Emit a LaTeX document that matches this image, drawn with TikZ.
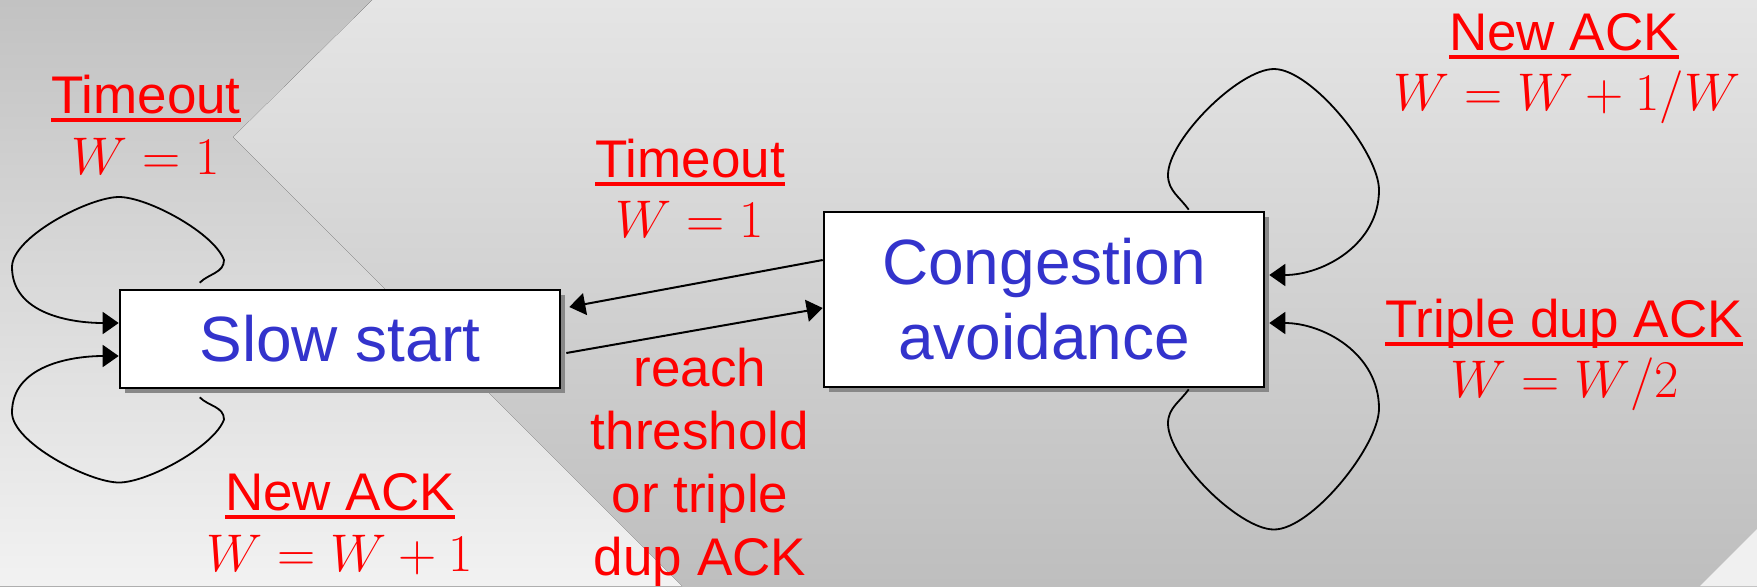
\RequirePackage{fix-cm}
\documentclass[tikz,border=0pt]{standalone}
\usepackage{fontspec}
\setmainfont{Liberation Sans}
\usetikzlibrary{arrows.meta,shadows,calc}
\definecolor{boxblue}{HTML}{3333CC}
\definecolor{lblred}{HTML}{FF0000}
\definecolor{shadowgray}{HTML}{888888}
\definecolor{bgtop}{HTML}{E5E5E5}
\definecolor{bgbot}{HTML}{BEBEBE}
\definecolor{lftop}{HTML}{C2C2C2}
\definecolor{lfbot}{HTML}{F2F2F2}
\definecolor{cornerlight}{HTML}{F0F0F0}
\newcommand{\ulText}[1]{\setbox0\hbox{#1}\rlap{\rule[-4.4pt]{\wd0}{1.8pt}}\box0}
\begin{document}
\begin{tikzpicture}[x=0.5pt,y=0.5pt,
  state/.style={draw=black,line width=1.3pt,fill=white,inner sep=0pt,text=boxblue,
    font=\fontsize{32}{37.5}\selectfont,align=center,
    drop shadow={shadow xshift=2.5pt,shadow yshift=-2.5pt,fill=shadowgray,opacity=1}},
  lab/.style={text=lblred,font=\fontsize{26.5}{31.5}\selectfont,inner sep=0pt,anchor=base},
  conn/.style={line width=1pt,-{Triangle[length=8pt,width=11pt]}},
  loopline/.style={line width=0.9pt,-{Triangle[length=8pt,width=11pt]}},
]
\useasboundingbox (0,0) rectangle (1757,-586);
% background
\fill[top color=bgtop,bottom color=bgbot] (0,0) rectangle (1757,-586);
\fill[top color=lftop,bottom color=lfbot] (0,0) -- (372,0) -- (233,-137) -- (682,-586) -- (0,-586) -- cycle;
\fill[cornerlight] (1700,-586) -- (1757,-529) -- (1757,-586) -- cycle;

% states
\node[state,minimum width=220pt,minimum height=49pt] (ss) at (340,-339) {Slow start};
\node[state,minimum width=220pt,minimum height=87.5pt] (ca) at (1044,-299.5) {Congestion\\avoidance};

% labels
\node[lab] (tlA) at (146,-113) {\ulText{Timeout}};
\node[lab] (tlB) at (146,-174) {$W=1$};
\node[lab] (mtA) at (690,-177) {\ulText{Timeout}};
\node[lab] (mtB) at (690,-237) {$W=1$};
\node[lab,align=center] (rch) at (700,-575) {reach\\threshold\\or triple\\dup ACK};
\node[lab] (blA) at (340,-510) {\ulText{New ACK}};
\node[lab] (blB) at (340,-571) {$W=W+1$};
\node[lab] (trA) at (1564,-50) {\ulText{New ACK}};
\node[lab] (trB) at (1567,-110) {$W=W+1/W$};
\node[lab] (rA) at (1564,-337) {\ulText{Triple dup ACK}};
\node[lab] (rB) at (1565,-397) {$W=W/2$};

% connectors between states
\draw[conn] ($(ca.west)+(0,39.5)$) -- ($(ss.east)+(8,32)$);
\draw[conn] ($(ss.east)+(5,-14)$) -- ($(ca.west)+(0,-8.5)$);

% loop end points
\coordinate (ssin1) at ($(ss.west)+(0,16)$);
\coordinate (ssin2) at ($(ss.west)+(0,-17)$);
\coordinate (ssout1) at ($(ss.north west)+(81,6)$);
\coordinate (ssout2) at ($(ss.south west)+(81,-8)$);
\coordinate (caout1) at ($(ca.north west)+(366,1)$);
\coordinate (caout2) at ($(ca.south west)+(366,-1)$);
\coordinate (cain1) at ($(ca.east)+(4,24.5)$);
\coordinate (cain2) at ($(ca.east)+(4,-23.5)$);

% self loops on Slow start
\draw[loopline] (ssout1) to[out=45,in=-90] (224,-260)
  to[out=110,in=0,looseness=0.6] (119,-197)
  to[out=180,in=90,looseness=0.6] (12,-267)
  to[out=-90,in=180] (ssin1);
\draw[loopline] (ssout2) to[out=-45,in=90] (224,-419.5)
  to[out=-110,in=0,looseness=0.6] (119,-482.5)
  to[out=180,in=-90,looseness=0.6] (12,-412.5)
  to[out=90,in=180] (ssin2);
% self loops on Congestion avoidance
\draw[loopline] (caout1) to[out=125,in=-90] (1168,-175)
  to[out=90,in=180,looseness=0.6] (1274,-69)
  to[out=0,in=90,looseness=0.6] (1379,-190)
  to[out=-90,in=0] (cain1);
\draw[loopline] (caout2) to[out=-125,in=90] (1168,-423.5)
  to[out=-90,in=180,looseness=0.6] (1274,-529.5)
  to[out=0,in=-90,looseness=0.6] (1379,-408.5)
  to[out=90,in=0] (cain2);
\end{tikzpicture}
\end{document}
